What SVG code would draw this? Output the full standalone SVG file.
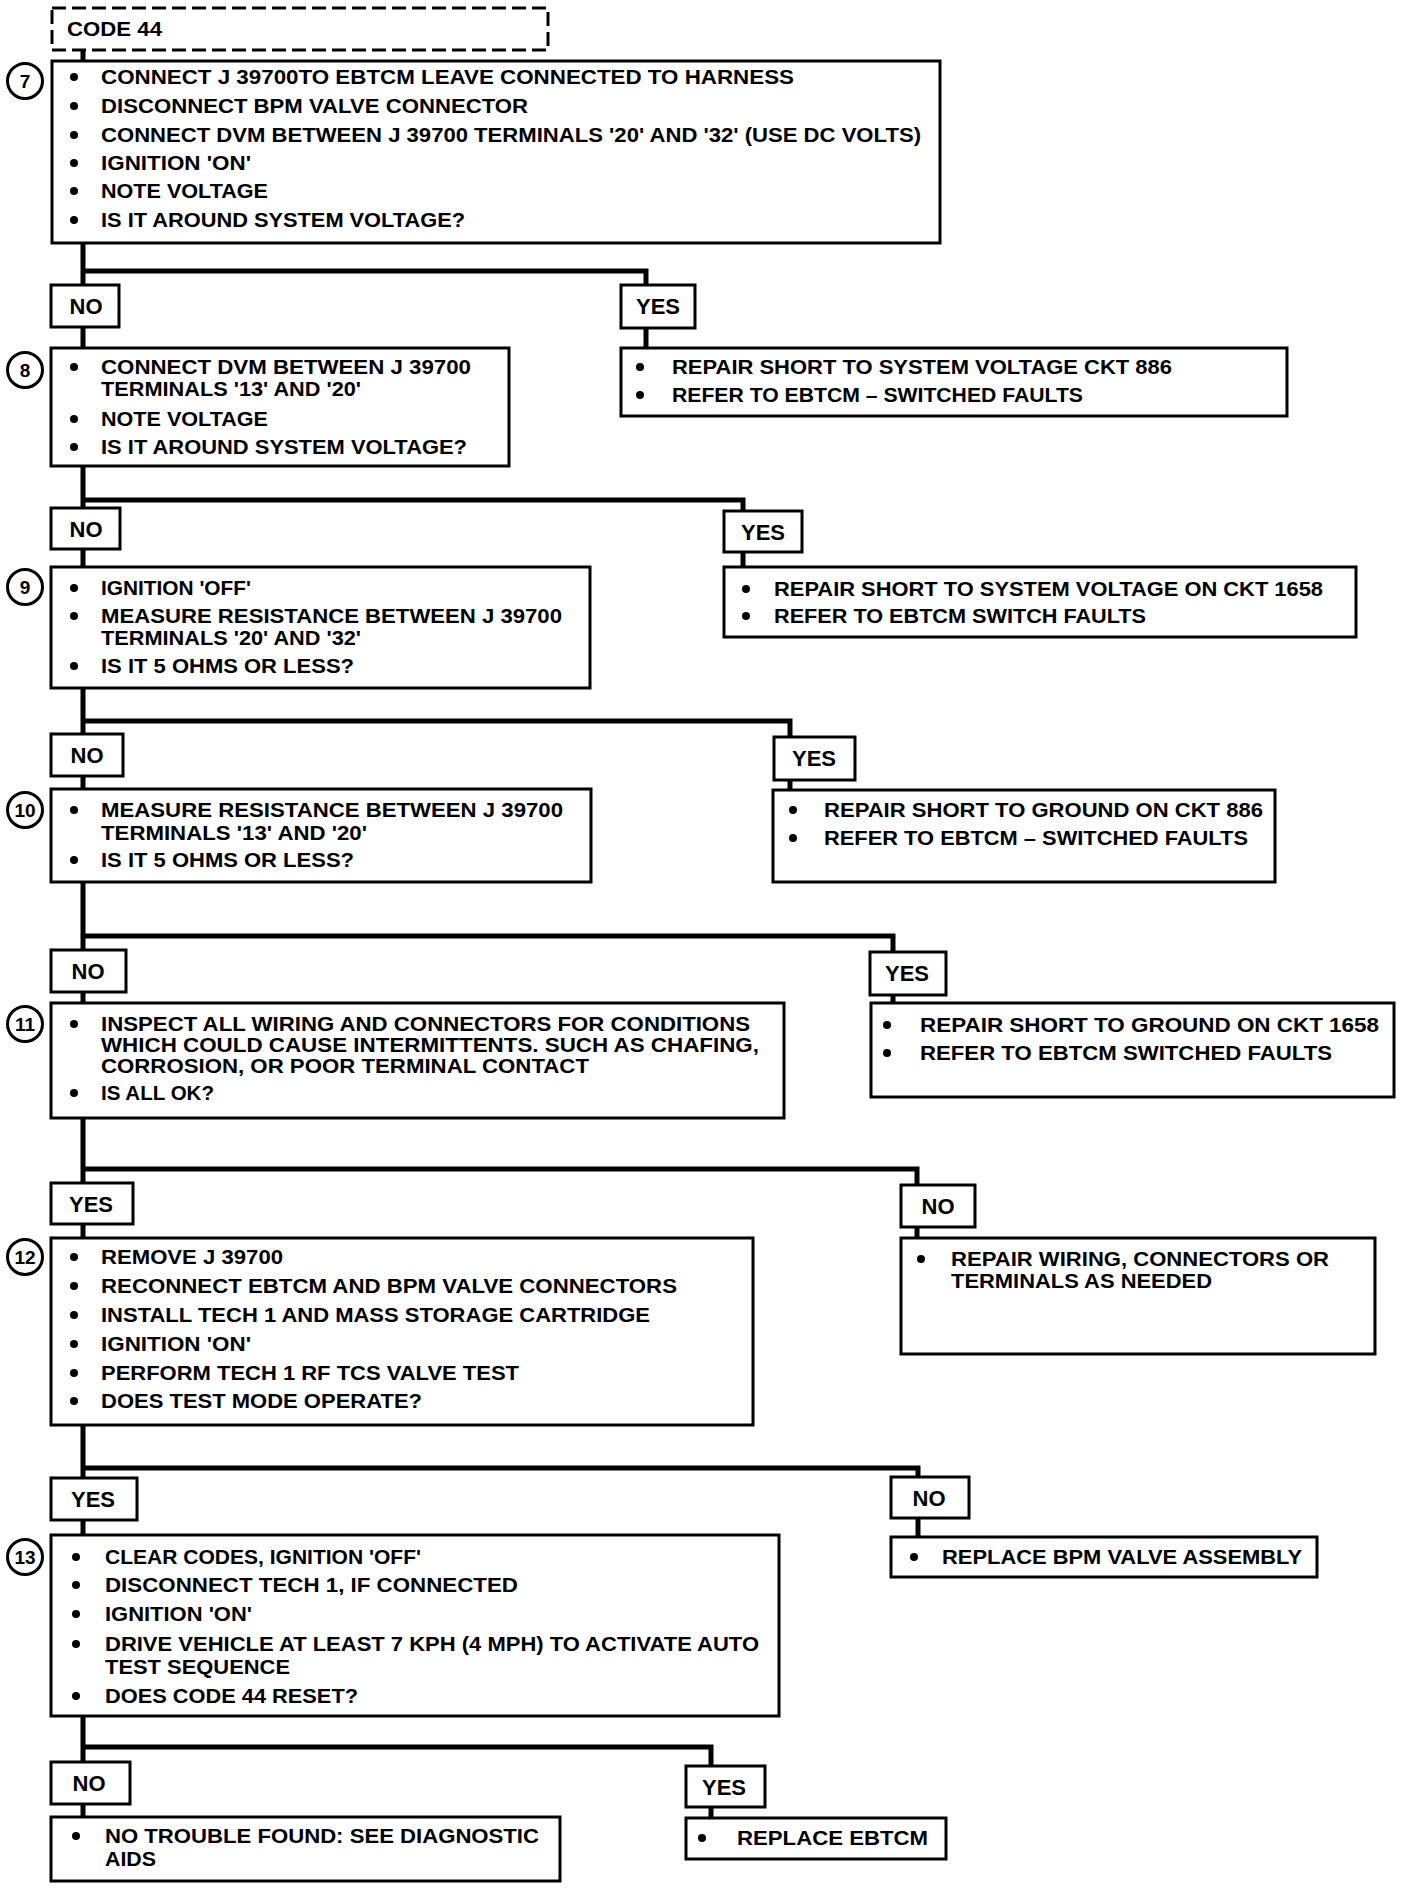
<svg xmlns="http://www.w3.org/2000/svg" width="1408" height="1888" viewBox="0 0 1408 1888">
<style>
.bx{fill:#fff;stroke:#000;stroke-width:3}
.dash{fill:none;stroke:#000;stroke-width:3;stroke-dasharray:14 6}
.lb{fill:#fff;stroke:#000;stroke-width:3}
.c{fill:none;stroke:#000;stroke-width:5;stroke-linejoin:miter}
.num{fill:#fff;stroke:#000;stroke-width:3}
.t{font-family:"Liberation Sans",Arial,sans-serif;font-weight:bold;font-size:21px;fill:#000}
.l{font-family:"Liberation Sans",Arial,sans-serif;font-weight:bold;font-size:22px;fill:#000;text-anchor:middle}
.n{font-family:"Liberation Sans",Arial,sans-serif;font-weight:bold;font-size:19px;fill:#000;text-anchor:middle}
.b{fill:#000}
</style>
<rect width="1408" height="1888" fill="#fff"/>
<g id="connectors">
<path class="c" d="M83 50V61"/>
<path class="c" d="M83 243V285M83 271H646V285M83 327V348M646 328V348"/>
<path class="c" d="M83 466V508M83 500H743V511M83 549V567M743 552V567"/>
<path class="c" d="M83 688V734M83 721H790V737M83 776V789M790 780V790"/>
<path class="c" d="M83 882V950M83 936H893V952M83 992V1003M893 995V1003"/>
<path class="c" d="M83 1118V1183M83 1169H917V1185M83 1224V1238M917 1227V1238"/>
<path class="c" d="M83 1425V1478M83 1468H918V1477M83 1520V1535M918 1518V1537"/>
<path class="c" d="M83 1716V1762M83 1747H711V1766M83 1804V1817M711 1807V1818"/>
</g>
<g id="code44">
<rect class="dash" x="52" y="8" width="496" height="42"/>
<text class="t" x="67" y="36" textLength="95" lengthAdjust="spacingAndGlyphs" font-size="20">CODE 44</text>
</g>
<g id="step7">
<rect class="bx" x="52" y="61" width="888" height="182"/>
<circle class="num" cx="25" cy="81" r="17.5"/>
<text class="n" x="25" y="88">7</text>
<circle class="b" cx="74" cy="77" r="4"/><text class="t" x="101" y="84" textLength="693" lengthAdjust="spacingAndGlyphs">CONNECT J 39700TO EBTCM LEAVE CONNECTED TO HARNESS</text>
<circle class="b" cx="74" cy="106" r="4"/><text class="t" x="101" y="113" textLength="427" lengthAdjust="spacingAndGlyphs">DISCONNECT BPM VALVE CONNECTOR</text>
<circle class="b" cx="74" cy="135" r="4"/><text class="t" x="101" y="142" textLength="820" lengthAdjust="spacingAndGlyphs">CONNECT DVM BETWEEN J 39700 TERMINALS '20' AND '32' (USE DC VOLTS)</text>
<circle class="b" cx="74" cy="163" r="4"/><text class="t" x="101" y="170" textLength="150" lengthAdjust="spacingAndGlyphs">IGNITION 'ON'</text>
<circle class="b" cx="74" cy="191" r="4"/><text class="t" x="101" y="198" textLength="167" lengthAdjust="spacingAndGlyphs">NOTE VOLTAGE</text>
<circle class="b" cx="74" cy="220" r="4"/><text class="t" x="101" y="227" textLength="364" lengthAdjust="spacingAndGlyphs">IS IT AROUND SYSTEM VOLTAGE?</text>
</g>
<g id="no1"><rect class="lb" x="51" y="285" width="68" height="42"/><text class="l" x="86" y="314">NO</text></g>
<g id="yes1"><rect class="lb" x="621" y="285" width="74" height="43"/><text class="l" x="658" y="314">YES</text></g>
<g id="step8">
<rect class="bx" x="51" y="348" width="458" height="118"/>
<circle class="num" cx="25" cy="370" r="17.5"/>
<text class="n" x="25" y="377">8</text>
<circle class="b" cx="74" cy="367" r="4"/><text class="t" x="101" y="374" textLength="370" lengthAdjust="spacingAndGlyphs">CONNECT DVM BETWEEN J 39700</text>
<text class="t" x="101" y="396" textLength="260" lengthAdjust="spacingAndGlyphs">TERMINALS '13' AND '20'</text>
<circle class="b" cx="74" cy="419" r="4"/><text class="t" x="101" y="426" textLength="167" lengthAdjust="spacingAndGlyphs">NOTE VOLTAGE</text>
<circle class="b" cx="74" cy="447" r="4"/><text class="t" x="101" y="454" textLength="366" lengthAdjust="spacingAndGlyphs">IS IT AROUND SYSTEM VOLTAGE?</text>
</g>
<g id="r1">
<rect class="bx" x="621" y="348" width="666" height="68"/>
<circle class="b" cx="640" cy="367" r="4"/><text class="t" x="672" y="374" textLength="500" lengthAdjust="spacingAndGlyphs">REPAIR SHORT TO SYSTEM VOLTAGE CKT  886</text>
<circle class="b" cx="640" cy="395" r="4"/><text class="t" x="672" y="402" textLength="411" lengthAdjust="spacingAndGlyphs">REFER TO EBTCM – SWITCHED FAULTS</text>
</g>
<g id="no2"><rect class="lb" x="51" y="508" width="69" height="41"/><text class="l" x="86" y="537">NO</text></g>
<g id="yes2"><rect class="lb" x="724" y="511" width="78" height="41"/><text class="l" x="763" y="540">YES</text></g>
<g id="step9">
<rect class="bx" x="51" y="567" width="539" height="121"/>
<circle class="num" cx="25" cy="587" r="17.5"/>
<text class="n" x="25" y="594">9</text>
<circle class="b" cx="74" cy="588" r="4"/><text class="t" x="101" y="595" textLength="150" lengthAdjust="spacingAndGlyphs">IGNITION 'OFF'</text>
<circle class="b" cx="74" cy="616" r="4"/><text class="t" x="101" y="623" textLength="461" lengthAdjust="spacingAndGlyphs">MEASURE RESISTANCE BETWEEN J 39700</text>
<text class="t" x="101" y="645" textLength="260" lengthAdjust="spacingAndGlyphs">TERMINALS '20' AND '32'</text>
<circle class="b" cx="74" cy="666" r="4"/><text class="t" x="101" y="673" textLength="253" lengthAdjust="spacingAndGlyphs">IS IT 5 OHMS OR LESS?</text>
</g>
<g id="r2">
<rect class="bx" x="724" y="567" width="632" height="70"/>
<circle class="b" cx="746" cy="589" r="4"/><text class="t" x="774" y="596" textLength="549" lengthAdjust="spacingAndGlyphs">REPAIR SHORT TO SYSTEM VOLTAGE ON CKT 1658</text>
<circle class="b" cx="746" cy="616" r="4"/><text class="t" x="774" y="623" textLength="372" lengthAdjust="spacingAndGlyphs">REFER TO EBTCM SWITCH FAULTS</text>
</g>
<g id="no3"><rect class="lb" x="51" y="734" width="72" height="42"/><text class="l" x="87" y="763">NO</text></g>
<g id="yes3"><rect class="lb" x="774" y="737" width="81" height="43"/><text class="l" x="814" y="766">YES</text></g>
<g id="step10">
<rect class="bx" x="51" y="789" width="540" height="93"/>
<circle class="num" cx="25" cy="810" r="17.5"/>
<text class="n" x="25" y="817">10</text>
<circle class="b" cx="74" cy="810" r="4"/><text class="t" x="101" y="817" textLength="462" lengthAdjust="spacingAndGlyphs">MEASURE RESISTANCE BETWEEN J 39700</text>
<text class="t" x="101" y="840" textLength="266" lengthAdjust="spacingAndGlyphs">TERMINALS '13' AND '20'</text>
<circle class="b" cx="74" cy="860" r="4"/><text class="t" x="101" y="867" textLength="253" lengthAdjust="spacingAndGlyphs">IS IT 5 OHMS OR LESS?</text>
</g>
<g id="r3">
<rect class="bx" x="773" y="790" width="502" height="92"/>
<circle class="b" cx="793" cy="810" r="4"/><text class="t" x="824" y="817" textLength="439" lengthAdjust="spacingAndGlyphs">REPAIR SHORT TO GROUND ON CKT 886</text>
<circle class="b" cx="793" cy="838" r="4"/><text class="t" x="824" y="845" textLength="424" lengthAdjust="spacingAndGlyphs">REFER  TO EBTCM – SWITCHED FAULTS</text>
</g>
<g id="no4"><rect class="lb" x="51" y="950" width="75" height="42"/><text class="l" x="88" y="979">NO</text></g>
<g id="yes4"><rect class="lb" x="870" y="952" width="76" height="43"/><text class="l" x="907" y="981">YES</text></g>
<g id="step11">
<rect class="bx" x="51" y="1003" width="733" height="115"/>
<circle class="num" cx="25" cy="1024" r="17.5"/>
<text class="n" x="25" y="1031">11</text>
<circle class="b" cx="74" cy="1024" r="4"/><text class="t" x="101" y="1031" textLength="649" lengthAdjust="spacingAndGlyphs">INSPECT ALL WIRING AND CONNECTORS FOR CONDITIONS</text>
<text class="t" x="101" y="1052" textLength="658" lengthAdjust="spacingAndGlyphs">WHICH COULD CAUSE INTERMITTENTS.  SUCH AS CHAFING,</text>
<text class="t" x="101" y="1073" textLength="488" lengthAdjust="spacingAndGlyphs">CORROSION, OR POOR TERMINAL CONTACT</text>
<circle class="b" cx="74" cy="1093" r="4"/><text class="t" x="101" y="1100" textLength="113" lengthAdjust="spacingAndGlyphs">IS ALL OK?</text>
</g>
<g id="r4">
<rect class="bx" x="871" y="1003" width="523" height="94"/>
<circle class="b" cx="887" cy="1025" r="4"/><text class="t" x="920" y="1032" textLength="459" lengthAdjust="spacingAndGlyphs">REPAIR SHORT TO GROUND ON CKT  1658</text>
<circle class="b" cx="887" cy="1053" r="4"/><text class="t" x="920" y="1060" textLength="412" lengthAdjust="spacingAndGlyphs">REFER  TO EBTCM SWITCHED FAULTS</text>
</g>
<g id="yes5"><rect class="lb" x="51" y="1183" width="82" height="41"/><text class="l" x="91" y="1212">YES</text></g>
<g id="no5"><rect class="lb" x="901" y="1185" width="74" height="42"/><text class="l" x="938" y="1214">NO</text></g>
<g id="step12">
<rect class="bx" x="51" y="1238" width="702" height="187"/>
<circle class="num" cx="25" cy="1257" r="17.5"/>
<text class="n" x="25" y="1264">12</text>
<circle class="b" cx="74" cy="1257" r="4"/><text class="t" x="101" y="1264" textLength="182" lengthAdjust="spacingAndGlyphs">REMOVE J 39700</text>
<circle class="b" cx="74" cy="1286" r="4"/><text class="t" x="101" y="1293" textLength="576" lengthAdjust="spacingAndGlyphs">RECONNECT EBTCM AND BPM VALVE CONNECTORS</text>
<circle class="b" cx="74" cy="1315" r="4"/><text class="t" x="101" y="1322" textLength="549" lengthAdjust="spacingAndGlyphs">INSTALL TECH 1 AND MASS STORAGE CARTRIDGE</text>
<circle class="b" cx="74" cy="1344" r="4"/><text class="t" x="101" y="1351" textLength="150" lengthAdjust="spacingAndGlyphs">IGNITION 'ON'</text>
<circle class="b" cx="74" cy="1373" r="4"/><text class="t" x="101" y="1380" textLength="418" lengthAdjust="spacingAndGlyphs">PERFORM TECH 1 RF TCS VALVE TEST</text>
<circle class="b" cx="74" cy="1401" r="4"/><text class="t" x="101" y="1408" textLength="321" lengthAdjust="spacingAndGlyphs">DOES TEST MODE OPERATE?</text>
</g>
<g id="r5">
<rect class="bx" x="901" y="1238" width="474" height="116"/>
<circle class="b" cx="921" cy="1259" r="4"/><text class="t" x="951" y="1266" textLength="378" lengthAdjust="spacingAndGlyphs">REPAIR WIRING, CONNECTORS OR</text>
<text class="t" x="951" y="1288" textLength="261" lengthAdjust="spacingAndGlyphs">TERMINALS AS NEEDED</text>
</g>
<g id="yes6"><rect class="lb" x="51" y="1478" width="86" height="42"/><text class="l" x="93" y="1507">YES</text></g>
<g id="no6"><rect class="lb" x="891" y="1477" width="78" height="41"/><text class="l" x="929" y="1506">NO</text></g>
<g id="step13">
<rect class="bx" x="51" y="1535" width="728" height="181"/>
<circle class="num" cx="25" cy="1557" r="17.5"/>
<text class="n" x="25" y="1564">13</text>
<circle class="b" cx="76" cy="1557" r="4"/><text class="t" x="105" y="1564" textLength="316" lengthAdjust="spacingAndGlyphs">CLEAR CODES, IGNITION 'OFF'</text>
<circle class="b" cx="76" cy="1585" r="4"/><text class="t" x="105" y="1592" textLength="413" lengthAdjust="spacingAndGlyphs">DISCONNECT TECH 1, IF CONNECTED</text>
<circle class="b" cx="76" cy="1614" r="4"/><text class="t" x="105" y="1621" textLength="147" lengthAdjust="spacingAndGlyphs">IGNITION 'ON'</text>
<circle class="b" cx="76" cy="1644" r="4"/><text class="t" x="105" y="1651" textLength="654" lengthAdjust="spacingAndGlyphs">DRIVE VEHICLE AT LEAST 7 KPH (4 MPH) TO ACTIVATE AUTO</text>
<text class="t" x="105" y="1674" textLength="185" lengthAdjust="spacingAndGlyphs">TEST SEQUENCE</text>
<circle class="b" cx="76" cy="1696" r="4"/><text class="t" x="105" y="1703" textLength="253" lengthAdjust="spacingAndGlyphs">DOES CODE 44 RESET?</text>
</g>
<g id="r6">
<rect class="bx" x="891" y="1537" width="426" height="40"/>
<circle class="b" cx="914" cy="1557" r="4"/><text class="t" x="942" y="1564" textLength="360" lengthAdjust="spacingAndGlyphs">REPLACE BPM  VALVE ASSEMBLY</text>
</g>
<g id="no7"><rect class="lb" x="51" y="1762" width="79" height="42"/><text class="l" x="89" y="1791">NO</text></g>
<g id="yes7"><rect class="lb" x="686" y="1766" width="79" height="41"/><text class="l" x="724" y="1795">YES</text></g>
<g id="b1">
<rect class="bx" x="51" y="1817" width="509" height="64"/>
<circle class="b" cx="76" cy="1836" r="4"/><text class="t" x="105" y="1843" textLength="434" lengthAdjust="spacingAndGlyphs">NO TROUBLE FOUND: SEE DIAGNOSTIC</text>
<text class="t" x="105" y="1866" textLength="51" lengthAdjust="spacingAndGlyphs">AIDS</text>
</g>
<g id="b2">
<rect class="bx" x="686" y="1818" width="260" height="41"/>
<circle class="b" cx="702" cy="1838" r="4"/><text class="t" x="737" y="1845" textLength="191" lengthAdjust="spacingAndGlyphs">REPLACE  EBTCM</text>
</g>
</svg>
